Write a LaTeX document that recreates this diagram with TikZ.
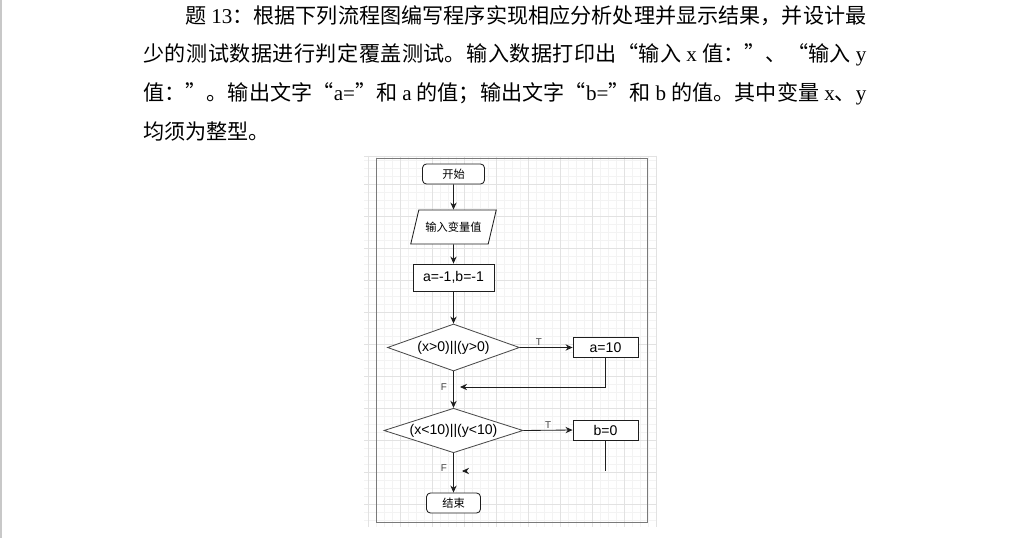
\documentclass[tikz,border=0pt]{standalone}
\usepackage{fontspec}
\setmainfont{Liberation Serif}
\setsansfont{Liberation Sans}
\newfontfamily\cjk{Noto Sans CJK SC}
\XeTeXlinebreaklocale "zh"
\XeTeXlinebreakskip = 0pt plus 2pt minus 0.5pt
\usetikzlibrary{shapes.geometric, arrows.meta, positioning, calc}
\usepackage{xcolor}
\definecolor{FlowLine}{HTML}{1E1E1E}
\definecolor{FlowFrame}{HTML}{7A7A7A}
\definecolor{GridMinor}{HTML}{F3F3F3}
\definecolor{GridMajor}{HTML}{E2E2E2}
\definecolor{PageEdge}{HTML}{C8C8C8}
\tikzset{
    % Box styles
    terminal/.style={
        rectangle,
        rounded corners=2.8pt,
        draw=FlowLine,
        fill=white,
        line width=0.6pt,
        minimum width=1.55cm,
        minimum height=0.5cm,
        font=\cjk\fontsize{8}{9.6}\selectfont
    },
    inputbox/.style={
        trapezium,
        trapezium left angle=69,
        trapezium right angle=111,
        trapezium stretches=true,
        draw=FlowLine,
        fill=white,
        line width=0.6pt,
        minimum width=2.15cm,
        minimum height=0.85cm,
        font=\cjk\fontsize{8}{9.6}\selectfont
    },
    process/.style={
        rectangle,
        draw=FlowLine,
        fill=white,
        line width=0.6pt,
        minimum height=0.5cm,
        font=\sffamily\fontsize{10}{12}\selectfont
    },
    decision/.style={
        diamond,
        draw=FlowLine!80,
        fill=white,
        line width=0.6pt,
        aspect=2.8,
        inner sep=0pt,
        font=\sffamily\fontsize{10}{12}\selectfont
    },
    % Arrow styles
    arrow/.style={
        -{Stealth[length=5pt,width=4.5pt]},
        line width=0.6pt,
        draw=FlowLine
    },
    plainline/.style={
        line width=0.7pt,
        draw=FlowLine
    },
    branch/.style={
        font=\sffamily\fontsize{7}{8}\selectfont,
        text=FlowLine!85,
        inner sep=1pt
    },
    % Sheet styles
    gridminor/.style={draw=GridMinor, line width=0.4pt},
    gridmajor/.style={draw=GridMajor, line width=0.5pt}
}

\begin{document}
\begin{tikzpicture}[x=0.025cm, y=-0.025cm]
    \useasboundingbox[fill=white] (0,0) rectangle (1020,538);
    \draw[PageEdge, line width=1.4pt] (1,0) -- (1,538);

    % Question text
    \node[anchor=north west, inner sep=0pt, text width=18.075cm, align=justify,
          font=\cjk\fontsize{15}{27.6}\selectfont] (question) at (143,5) {%
        \hspace*{2em}题 {\rmfamily 13}：根据下列流程图编写程序实现相应分析处理并显示结果，并设计最\linebreak
        少的测试数据进行判定覆盖测试。输入数据打印出“输入 {\rmfamily x} 值：”、“输入 {\rmfamily y}\linebreak
        值：”。输出文字“{\rmfamily a=}”和 {\rmfamily a} 的值；输出文字“{\rmfamily b=}”和 {\rmfamily b} 的值。其中变量 {\rmfamily x}、{\rmfamily y}\linebreak
        均须为整型。};

    % Grid sheet
    \foreach \gx in {368,376,...,656} \draw[gridminor] (\gx,156) -- (\gx,527);
    \foreach \gy in {160,168,...,520} \draw[gridminor] (364,\gy) -- (657,\gy);
    \foreach \gx in {368,400,...,656} \draw[gridmajor] (\gx,156) -- (\gx,527);
    \foreach \gy in {184,216,...,504} \draw[gridmajor] (364,\gy) -- (657,\gy);
    \draw[gridmajor, line width=1pt] (364,156.5) -- (657,156.5);
    \draw[FlowFrame, line width=0.7pt] (376,158) rectangle (647,522);

    % Flow chart
    \node[terminal] (start) at (453.5,174) {开始};
    \node[inputbox] (input) at (453.5,227) {输入变量值};
    \node[process, minimum width=2.025cm, minimum height=0.675cm] (init) at (453.5,277.5) {a=-1,b=-1};
    \node[decision, minimum width=3.3cm, minimum height=1.175cm] (cond1) at (453.5,347.5) {(x>0)||(y>0)};
    \node[process, minimum width=1.625cm] (seta) at (605.5,347.5) {a=10};
    \node[decision, minimum width=3.475cm, minimum height=1.075cm] (cond2) at (453.5,430.5) {(x<10)||(y<10)};
    \node[process, minimum width=1.625cm] (setb) at (605.5,430) {b=0};
    \node[terminal, minimum width=1.35cm] (stop) at (453.5,503) {结束};
    \coordinate (merge1) at (460,387);
    \coordinate (merge2) at (462,471);
    \coordinate (bend) at (605.5,471);

    \draw[arrow] (start) -- (input);
    \draw[arrow] (input) -- (init);
    \draw[arrow] (init) -- (cond1);
    \draw[arrow] (cond1.east) -- node[branch, pos=0.36, above] {T} (seta.west);
    \draw[arrow] (seta.south) |- (merge1);
    \draw[arrow] (cond1.south) -- node[branch, pos=0.42, left=0.12cm] {F} (cond2.north);
    \draw[arrow] (cond2.east) -- node[branch, pos=0.5, above] {T} (setb.west);
    \draw[plainline] (setb.south) -- (bend);
    \draw[arrow] ($(merge2)+(1,0)$) -- (merge2);
    \draw[arrow] (cond2.south) -- node[branch, pos=0.37, left=0.12cm] {F} (stop.north);
\end{tikzpicture}
\end{document}
